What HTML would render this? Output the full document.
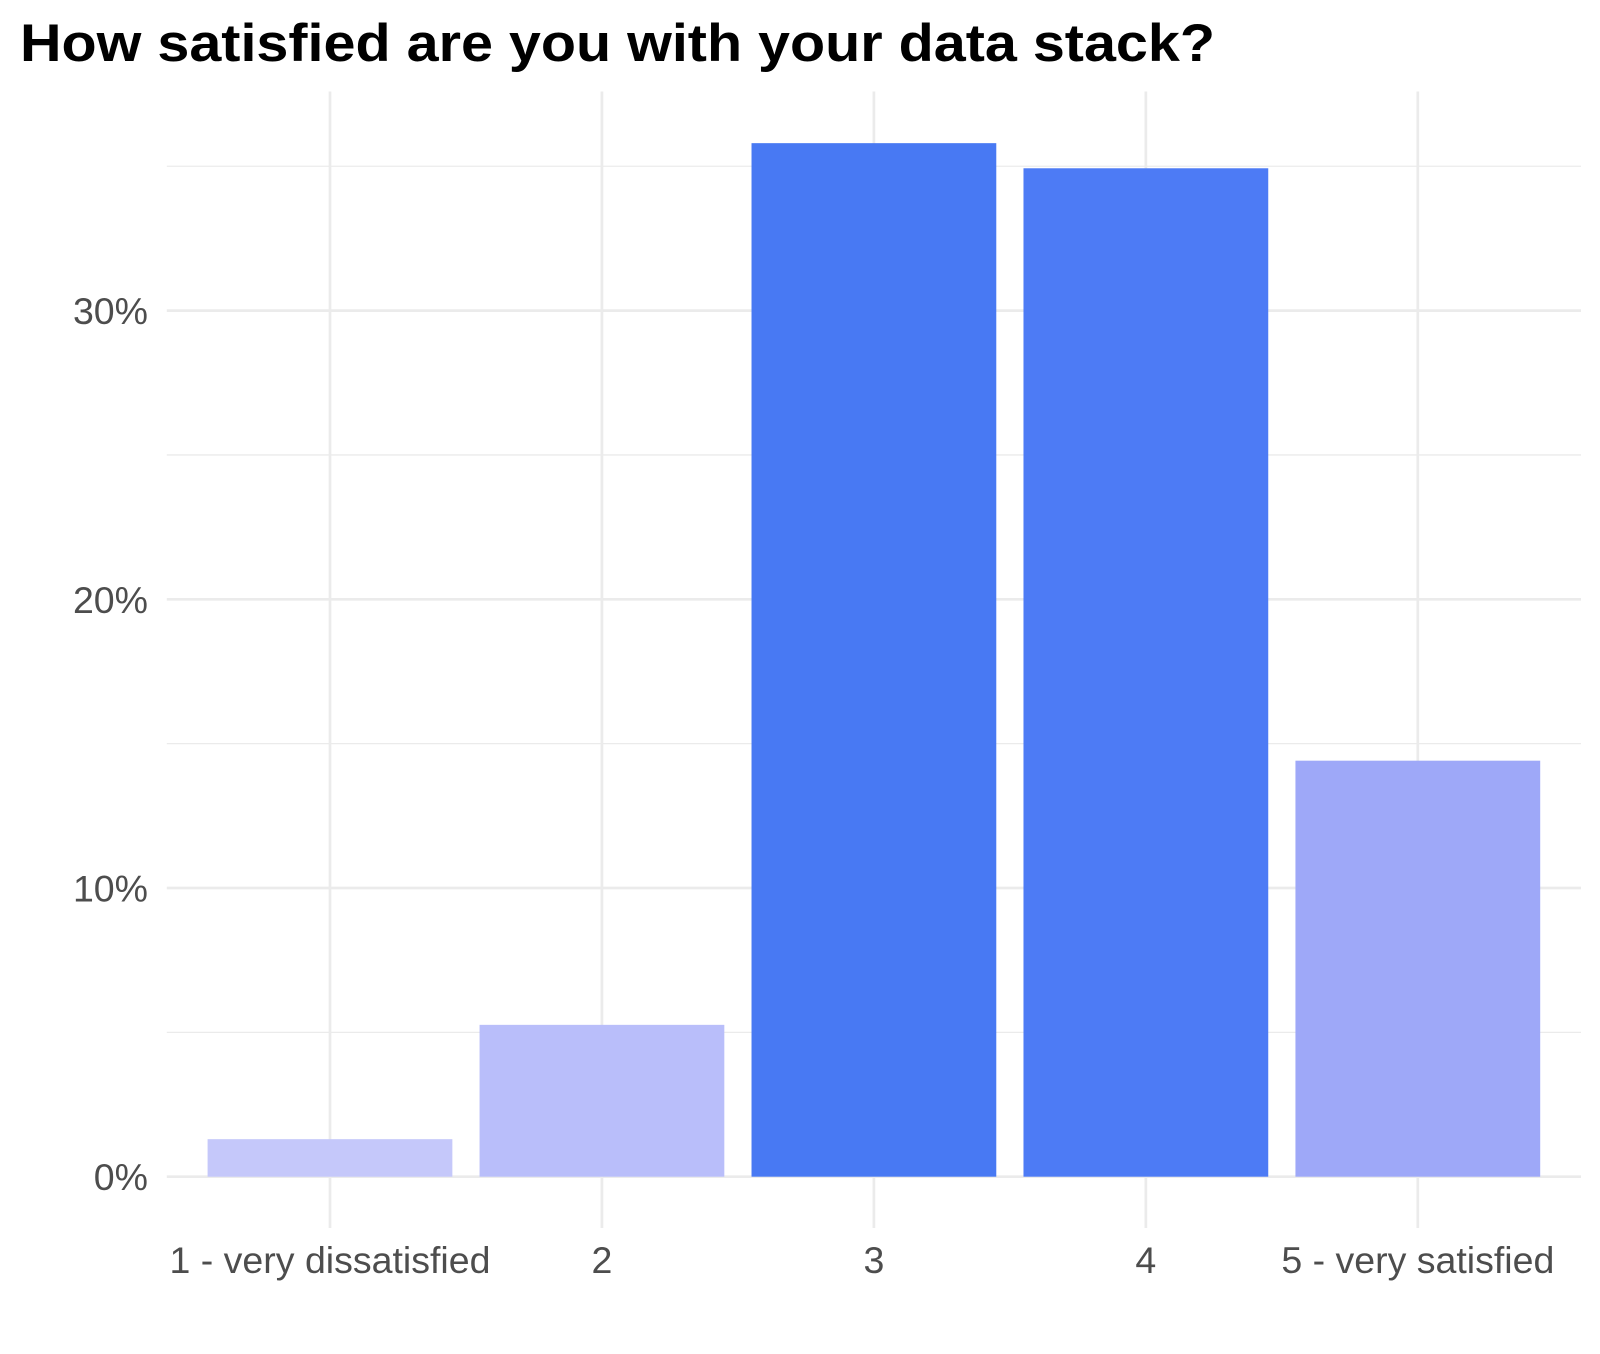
<!DOCTYPE html>
<html><head><meta charset="utf-8"><style>
html,body{margin:0;padding:0;background:#fff;}
svg{display:block;font-family:"Liberation Sans",Arial,sans-serif;}
</style></head><body>
<svg id="chart" width="1600" height="1354" viewBox="0 0 1600 1354" xmlns="http://www.w3.org/2000/svg">
<text x="20" y="61" font-size="53" font-weight="bold" fill="#000" textLength="1195" lengthAdjust="spacingAndGlyphs">How satisfied are you with your data stack?</text>
<g id="grid"></g>
<g id="bars"></g>
<g id="yticks"></g>
<g id="xticks"></g>
</svg>
<script>
const categories = ["1 - very dissatisfied", "2", "3", "4", "5 - very satisfied"];
const values = [1.30, 5.26, 35.8, 34.93, 14.41];
const barColors = ["#c5c8fa", "#b9befa", "#4879f3", "#4d7bf5", "#9ea8f8"];
const yTicks = [0, 10, 20, 30];
const yTickLabels = ["0%", "10%", "20%", "30%"];
const yMinor = [5, 15, 25, 35];

const NS = "http://www.w3.org/2000/svg";
const panel = {left: 166.8, right: 1581, top: 91.5, bottom: 1228};
const y0px = 1176.7, pxPerUnit = 28.87;
function yScale(v){ return y0px - v * pxPerUnit; }
const step = (panel.right - panel.left) / (categories.length + 0.2);
function xScale(i){ return panel.left + step * (0.6 + i); }
const barW = step * 0.9;

function mk(tag, attrs, parent){
  const el = document.createElementNS(NS, tag);
  for (const k in attrs) el.setAttribute(k, attrs[k]);
  parent.appendChild(el);
  return el;
}
const grid = document.getElementById('grid');
yMinor.forEach(v => {
  const l = mk('line', {x1: panel.left, x2: panel.right, y1: yScale(v), y2: yScale(v), stroke: '#ebebeb', 'stroke-width': 1.3}, grid);
  
  
});
yTicks.forEach(v => {
  const l = mk('line', {x1: panel.left, x2: panel.right, y1: yScale(v), y2: yScale(v), stroke: '#ebebeb', 'stroke-width': 2.7}, grid);
  
  
});
categories.forEach((c, i) => {
  const l = mk('line', {x1: xScale(i), x2: xScale(i), y1: panel.top, y2: panel.bottom, stroke: '#ebebeb', 'stroke-width': 2.7}, grid);
  
  
});
const bars = document.getElementById('bars');
values.forEach((v, i) => {
  const r = mk('rect', {x: xScale(i) - barW/2, y: yScale(v), width: barW, height: yScale(0) - yScale(v), fill: barColors[i]}, bars);
  
  
});
const yt = document.getElementById('yticks');
yTicks.forEach((v, i) => {
  const t = mk('text', {x: 148, y: yScale(v) + 13.5, 'text-anchor': 'end', 'font-size': 37.5, fill: '#4d4d4d'}, yt);
  t.textContent = yTickLabels[i];
  
  
});
const xt = document.getElementById('xticks');
categories.forEach((c, i) => {
  const t = mk('text', {x: xScale(i), y: 1273, 'text-anchor': 'middle', 'font-size': 37.5, fill: '#4d4d4d'}, xt);
  t.textContent = c;
  
  
});
</script>
</body></html>
